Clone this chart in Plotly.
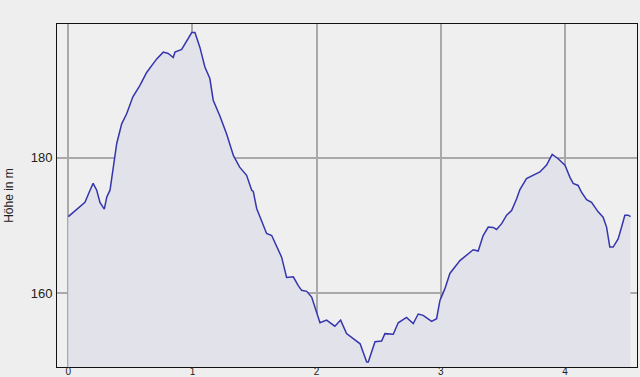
import plotly.graph_objects as go

dist_km = [0.0, 0.054, 0.094, 0.134, 0.175, 0.20, 0.229, 0.255, 0.29, 0.31, 0.336, 0.39, 0.43, 0.47,
           0.52, 0.577, 0.631, 0.712, 0.765, 0.805, 0.845, 0.859, 0.913, 0.953, 0.994, 1.02,
           1.06, 1.10, 1.14, 1.167, 1.22, 1.275, 1.33, 1.38, 1.436, 1.477, 1.49, 1.517, 1.597,
           1.638, 1.678, 1.718, 1.758, 1.812, 1.852, 1.879, 1.92, 1.96, 2.027, 2.08, 2.147,
           2.193, 2.241, 2.35, 2.403, 2.416, 2.47, 2.523, 2.55, 2.59, 2.617, 2.657, 2.724,
           2.778, 2.818, 2.858, 2.926, 2.966, 2.993, 3.033, 3.073, 3.154, 3.208, 3.261, 3.301,
           3.341, 3.382, 3.422, 3.449, 3.49, 3.53, 3.57, 3.61, 3.637, 3.69, 3.744, 3.798,
           3.852, 3.897, 3.945, 4.0, 4.04, 4.066, 4.106, 4.133, 4.174, 4.214, 4.267, 4.307,
           4.335, 4.361, 4.388, 4.428, 4.456, 4.482, 4.509, 4.528]
hoehe_m = [171.3, 172.1, 172.7, 173.4, 175.2, 176.2, 175.2, 173.4, 172.4, 174.2, 175.2, 182.1, 185.0, 186.5,
           189.0, 190.7, 192.6, 194.6, 195.6, 195.4, 194.8, 195.6, 196.0, 197.3, 198.5, 198.5,
           196.3, 193.4, 191.7, 188.5, 186.2, 183.5, 180.3, 178.6, 177.4, 175.2, 175.0, 172.5, 168.8,
           168.5, 167.0, 165.3, 162.3, 162.4, 161.1, 160.4, 160.25, 159.4, 155.6, 156.0, 155.1,
           156.0, 154.0, 152.5, 149.8, 149.8, 152.8, 152.9, 154.0, 154.0, 153.9, 155.6, 156.4,
           155.5, 156.9, 156.7, 155.8, 156.2, 158.9, 160.65, 162.9, 164.8, 165.6, 166.4, 166.2,
           168.5, 169.75, 169.7, 169.4, 170.25, 171.5, 172.2, 173.9, 175.3, 176.9, 177.4, 177.9,
           178.9, 180.5, 179.85, 178.9, 177.1, 176.2, 175.9, 174.9, 173.8, 173.4, 172.0, 171.2,
           169.75, 166.8, 166.8, 168.0, 169.75, 171.5, 171.5, 171.3]

x_ticks = [0, 1, 2, 3, 4]
y_ticks = [160, 180]
y_title = "Höhe in m"

fig = go.Figure()
fig.add_trace(go.Scatter(
    x=dist_km, y=hoehe_m, mode="lines", fill="tozeroy",
    fillcolor="#e1e2ea", line=dict(color="#3535ad", width=1.5),
    hoverinfo="skip", showlegend=False))

fig.update_layout(
    width=640, height=377,
    margin=dict(l=57, r=3, t=24, b=10, pad=0),
    paper_bgcolor="#eeeeee", plot_bgcolor="#efefef",
    font=dict(family="Arial, Liberation Sans, sans-serif", size=12, color="#222222"),
)
fig.update_xaxes(
    range=[-0.091, 4.58], tickvals=x_ticks, ticktext=[str(v) for v in x_ticks],
    showgrid=True, gridcolor="#a9a9a9", gridwidth=2, zeroline=False,
    showline=True, linecolor="#111111", linewidth=1, mirror=True, automargin=False,
    ticks="", ticklabelstandoff=-5, tickfont=dict(size=10))
fig.update_yaxes(
    range=[149.07, 199.76], tickvals=y_ticks, ticktext=[str(v) for v in y_ticks],
    showgrid=True, gridcolor="#a9a9a9", gridwidth=2, zeroline=False,
    showline=True, linecolor="#111111", linewidth=1, mirror=True, automargin=False,
    ticks="outside", ticklen=1, tickcolor="rgba(0,0,0,0)", tickfont=dict(size=13),
    title=dict(text=y_title, font=dict(size=12), standoff=14))

fig.write_html("out.html")
